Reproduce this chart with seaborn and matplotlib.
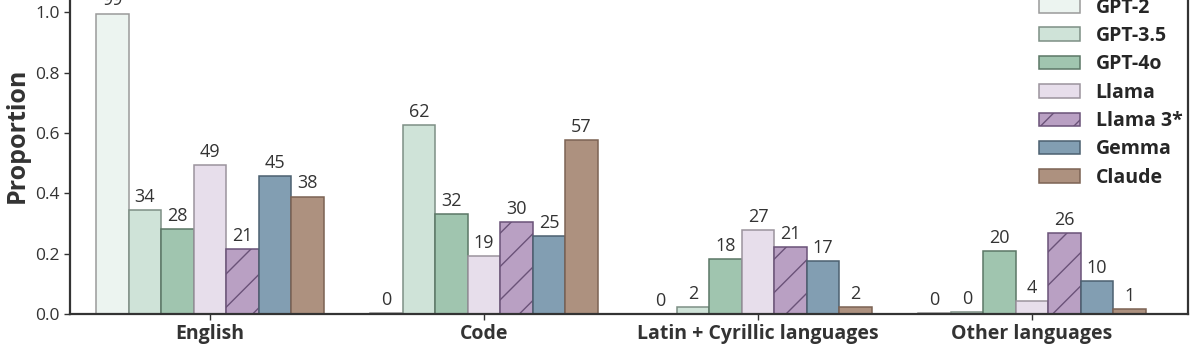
import numpy as np
import pandas as pd
import matplotlib
matplotlib.use("Agg")
import matplotlib.pyplot as plt
import seaborn as sns

categories = ["English", "Code", "Latin + Cyrillic languages", "Other languages"]
models = ["GPT-2", "GPT-3.5", "GPT-4o", "Llama", "Llama 3*", "Gemma", "Claude"]

# proportion per model, one entry per category
gpt2 = [0.995, 0.003, 0.0, 0.003]
gpt35 = [0.345, 0.625, 0.024, 0.006]
gpt4o = [0.282, 0.330, 0.183, 0.208]
llama = [0.494, 0.192, 0.277, 0.042]
llama3 = [0.215, 0.305, 0.221, 0.268]
gemma = [0.458, 0.258, 0.175, 0.108]
claude = [0.389, 0.577, 0.022, 0.017]

# printed labels (percent)
labels = {
    "GPT-2": [99, 0, 0, 0],
    "GPT-3.5": [34, 62, 2, 0],
    "GPT-4o": [28, 32, 18, 20],
    "Llama": [49, 19, 27, 4],
    "Llama 3*": [21, 30, 21, 26],
    "Gemma": [45, 25, 17, 10],
    "Claude": [38, 57, 2, 1],
}

faces = ["#ebf5f0", "#cce6d8", "#9acbae", "#e8dced", "#bb9ac9", "#7a9fba", "#b58f77"]
edges = ["#9a9a9a", "#7d8f85", "#5b7766", "#9b939d", "#6a5278", "#4c6070", "#7c6354"]

series = [gpt2, gpt35, gpt4o, llama, llama3, gemma, claude]
rows = []
for m, vals in zip(models, series):
    for c, v in zip(categories, vals):
        rows.append({"category": c, "model": m, "value": v})
df = pd.DataFrame(rows)

sns.set_style("ticks")
plt.rcParams["font.family"] = ["Open Sans", "DejaVu Sans"]
plt.rcParams["hatch.linewidth"] = 1.0

fig = plt.figure(figsize=(11.96, 3.52), dpi=100)
# the top of the axes sits above the visible canvas (cropped like the source)
ax = fig.add_axes([70 / 1196, 38 / 352, 1118 / 1196, 358 / 352])

sns.barplot(data=df, x="category", y="value", hue="model", hue_order=models,
            palette=faces, width=0.83, gap=0, ax=ax, legend=False)

for i, cont in enumerate(ax.containers):
    for p in cont.patches:
        p.set_edgecolor(edges[i])
        p.set_linewidth(1.1)
        if models[i] == "Llama 3*":
            p.set_hatch("/")
    ax.bar_label(cont, labels=[str(v) for v in labels[models[i]]],
                 padding=3, fontsize=13, color="#333333")

handles = [cont.patches[0] for cont in ax.containers]
ax.legend(handles, models, loc="center right", bbox_to_anchor=(1.002, 0.618),
          frameon=False, handlelength=2.1, handleheight=0.7,
          handletextpad=0.8, labelspacing=0.43, borderaxespad=0,
          prop={"weight": "bold", "size": 14})

ax.set_xlim(-0.511, 3.569)
ax.set_ylim(0, 1.186)
ax.set_yticks([0.0, 0.2, 0.4, 0.6, 0.8, 1.0])
ax.set_yticklabels(["0.0", "0.2", "0.4", "0.6", "0.8", "1.0"])
ax.set_xlabel("")
ax.set_ylabel("Proportion", fontsize=18, fontweight="bold", color="#333333", labelpad=4)
ax.tick_params(axis="y", labelsize=12.5, colors="#333333", length=4, width=1)
ax.tick_params(axis="x", labelsize=14, colors="#333333", length=4, width=1)
for t in ax.get_xticklabels():
    t.set_fontweight("bold")

ax.spines["top"].set_visible(False)
for s in ["left", "bottom", "right"]:
    ax.spines[s].set_linewidth(1.6)
    ax.spines[s].set_color("#333333")

fig.savefig("out.png", dpi=100)
